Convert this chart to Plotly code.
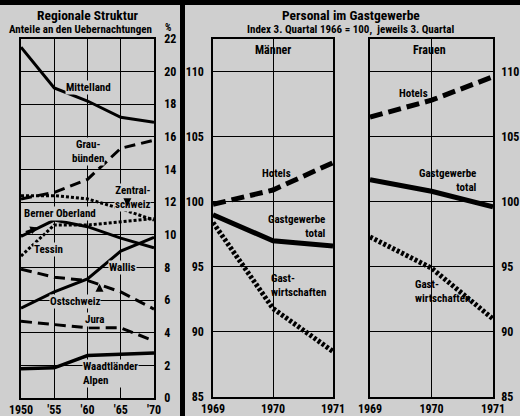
import plotly.graph_objects as go

# ---------------- data ----------------
years_reg = [1950, 1955, 1960, 1965, 1970]
mittelland = [21.5, 19.0, 18.2, 17.2, 16.9]
graubuenden = [12.2, 12.6, 13.4, 15.3, 15.8]
zentralschweiz = [12.4, 12.4, 12.2, 11.6, 10.9]
berner_oberland = [9.9, 10.9, 10.5, 9.8, 9.2]
tessin = [8.7, 10.6, 10.6, 10.8, 11.0]
wallis = [5.5, 6.5, 7.3, 9.0, 9.85]
ostschweiz = [7.9, 7.4, 7.2, 6.5, 5.45]
jura = [4.7, 4.5, 4.3, 4.3, 3.5]
waadtlaender_alpen = [1.8, 1.85, 2.6, 2.7, 2.75]

years_idx = [1969, 1970, 1971]
m_hotels = [99.8, 100.9, 103.0]
m_total = [99.0, 97.0, 96.6]
m_gastw = [98.4, 91.8, 88.5]
f_hotels = [106.5, 107.8, 109.6]
f_total = [101.7, 100.8, 99.6]
f_gastw = [97.3, 94.9, 91.0]

reg_xticks = [1950, 1955, 1960, 1965, 1970]
reg_xlabels = ["1950", "'55", "'60", "'65", "'70"]
reg_yticks = list(range(0, 23, 2))
idx_yticks = [85, 90, 95, 100, 105, 110]

BG = "#cfcfcf"
FONT = "Roboto Condensed, Liberation Sans Narrow, Arial Narrow, Liberation Sans, sans-serif"

fig = go.Figure()

def line(x, y, xa, ya, width, dash):
    fig.add_trace(go.Scatter(x=x, y=y, xaxis=xa, yaxis=ya, mode="lines",
                             line=dict(color="black", width=width, dash=dash),
                             hoverinfo="skip", showlegend=False))

# left panel
line(years_reg, mittelland, "x", "y", 3, "solid")
line(years_reg, graubuenden, "x", "y", 3, "11px,6px")
line(years_reg, zentralschweiz, "x", "y", 3, "3px,2px")
line(years_reg, berner_oberland, "x", "y", 3, "solid")
line(years_reg, tessin, "x", "y", 3, "3px,2px")
line(years_reg, wallis, "x", "y", 3, "solid")
line(years_reg, ostschweiz, "x", "y", 3, "11px,6px")
line(years_reg, jura, "x", "y", 3, "11px,6px")
line(years_reg, waadtlaender_alpen, "x", "y", 3.5, "solid")

# Männer
line(years_idx, m_hotels, "x2", "y2", 5, "13px,6px")
line(years_idx, m_total, "x2", "y2", 5, "solid")
line(years_idx, m_gastw, "x2", "y2", 5, "3px,2px")
# Frauen
line(years_idx, f_hotels, "x3", "y3", 5, "13px,6px")
line(years_idx, f_total, "x3", "y3", 5, "solid")
line(years_idx, f_gastw, "x3", "y3", 5, "3px,2px")

axis_common = dict(showline=True, linecolor="black", linewidth=1.5, mirror=True,
                   showgrid=True, gridcolor="black", gridwidth=1, zeroline=False,
                   automargin=False, ticks="", tickfont=dict(size=12, color="black"))

top = 1 - 39 / 416
fig.update_layout(
    template=None,
    width=520, height=416,
    margin=dict(l=0, r=0, t=0, b=0, autoexpand=False),
    paper_bgcolor=BG, plot_bgcolor=BG,
    font=dict(family=FONT, color="black", weight="bold"),
    showlegend=False,
    xaxis=dict(axis_common, domain=[21 / 520, 154 / 520], range=[1950, 1970],
               tickvals=reg_xticks, ticktext=reg_xlabels, anchor="y"),
    yaxis=dict(axis_common, domain=[1 - 398 / 416, top], range=[0, 22],
               tickvals=reg_yticks, side="right", anchor="x", ticklabelstandoff=6),
    xaxis2=dict(axis_common, domain=[213 / 520, 333 / 520], range=[1969, 1971],
                tickvals=years_idx, anchor="y2"),
    yaxis2=dict(axis_common, domain=[1 - 397 / 416, top], range=[85, 112.5],
                tickvals=idx_yticks, side="left", anchor="x2", ticklabelstandoff=5),
    xaxis3=dict(axis_common, domain=[370 / 520, 493 / 520], range=[1969, 1971],
                tickvals=years_idx, anchor="y3"),
    yaxis3=dict(axis_common, domain=[1 - 397 / 416, top], range=[85, 112.5],
                tickvals=idx_yticks, side="right", anchor="x3", ticklabelstandoff=4),
)

# decorative bars
fig.add_shape(type="rect", xref="paper", yref="paper", x0=0, x1=1,
              y0=1 - 5 / 416, y1=1, fillcolor="black", line_width=0)
fig.add_shape(type="rect", xref="paper", yref="paper", x0=180 / 520, x1=185 / 520,
              y0=0, y1=1 - 5 / 416, fillcolor="black", line_width=0)

def ptext(x, y, text, size=11, xanchor="center"):
    fig.add_annotation(xref="paper", yref="paper", x=x / 520, y=1 - y / 416,
                       text=text, showarrow=False, xanchor=xanchor, yanchor="middle",
                       font=dict(size=size))

ptext(88, 15, "Regionale Struktur", 13.5)
ptext(80, 30, "Anteile an den Uebernachtungen", 11)
ptext(168, 28, "%", 10)
ptext(351, 15, "Personal im Gastgewerbe", 13.5)
ptext(350, 30, "Index 3. Quartal 1966 = 100,  jeweils 3. Quartal", 11)

def dtext(xa, ya, x, y, text, xanchor="center", bg=None, size=11, align="center"):
    fig.add_annotation(xref=xa, yref=ya, x=x, y=y, text=text, showarrow=False,
                       xanchor=xanchor, yanchor="middle", font=dict(size=size),
                       bgcolor=bg, borderpad=0, align=align)

dtext("x", "y", 1960.1, 19.0, "Mittelland", bg=BG)
dtext("x", "y", 1960.1, 15.1, "Grau-<br>bünden", bg=BG)
dtext("x", "y", 1969.6, 12.3, "Zentral-<br>schweiz", xanchor="right", bg=BG, align="right")
dtext("x", "y", 1950.3, 11.3, "Berner Oberland", xanchor="left", bg=BG)
dtext("x", "y", 1951.8, 9.1, "Tessin", xanchor="left", bg=BG)
dtext("x", "y", 1965.2, 8.0, "Wallis", bg=BG)
dtext("x", "y", 1958.1, 5.9, "Ostschweiz", bg=BG)
dtext("x", "y", 1961.0, 4.8, "Jura", bg=BG)
dtext("x", "y", 1959.2, 1.5, "Waadtländer<br>Alpen", xanchor="left", bg=BG, align="left")

# small label pointers
def pointer(x, y, ax, ay):
    fig.add_annotation(xref="x", yref="y", x=x, y=y, ax=ax, ay=ay, text="",
                       showarrow=True, arrowhead=2, arrowsize=0.8, arrowwidth=2,
                       arrowcolor="black")

pointer(1952.6, 10.45, -14, 5)
pointer(1966.0, 11.75, 0, -6)
pointer(1961.8, 7.0, 0, 6)

dtext("x2", "y2", 1970.05, 102.2, "Hotels")
dtext("x2", "y2", 1969.9, 98.1, "Gastgewerbe<br>total", xanchor="left", align="right")
dtext("x2", "y2", 1969.95, 93.6, "Gast-<br>wirtschaften", xanchor="left", align="left")
dtext("x3", "y3", 1969.7, 108.3, "Hotels")
dtext("x3", "y3", 1970.75, 101.6, "Gastgewerbe<br>total", xanchor="right", align="right")
dtext("x3", "y3", 1969.72, 93.1, "Gast-<br>wirtschaften", xanchor="left", align="left")

ptext(273, 50, "Männer", 12)
ptext(429, 50, "Frauen", 12)

fig.write_html("out.html", post_script="document.body.style.margin='0';",
               config={"displayModeBar": False})
